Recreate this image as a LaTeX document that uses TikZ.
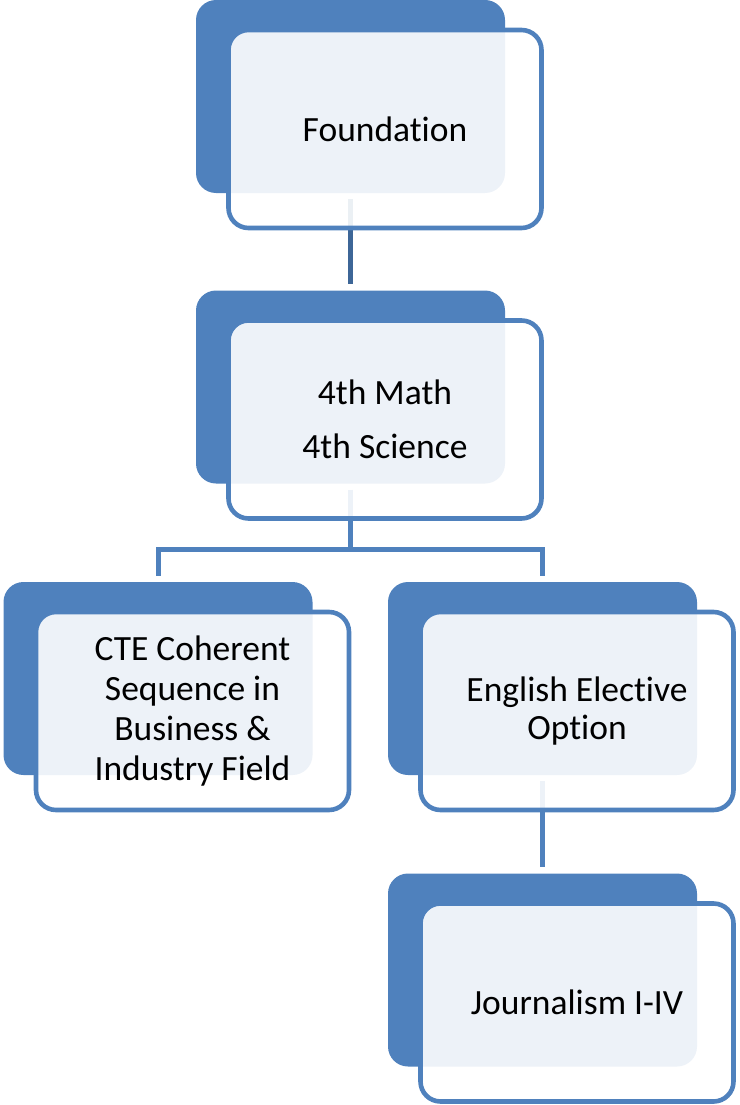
\documentclass[tikz,border=0pt]{standalone}
\usepackage{fontspec}
\setmainfont{Carlito}[Ligatures=NoCommon]
\definecolor{boxblue}{HTML}{4F81BD}
\definecolor{linkdark}{HTML}{3D6697}
\tikzset{
	back/.style={fill=boxblue,rounded corners=20pt,minimum width=309pt,minimum height=193pt,inner sep=0pt},
	front/.style={draw=boxblue,line width=4.6pt,fill=white,fill opacity=0.9,text opacity=1,rounded corners=20pt,
		minimum width=313pt,minimum height=198pt,inner sep=0pt,align=center,font=\fontsize{35.5}{42}\selectfont},
	link/.style={draw=boxblue,line width=5pt,shorten <=6pt,shorten >=6pt}
}

\begin{document}
\begin{tikzpicture}[x=1pt,y=-1pt]
			\useasboundingbox (0,0) rectangle (739,1105);
			
			% dark boxes behind
			\node[back] (b1) at (350.5,96.5) {};
			\node[back] (b2) at (350.5,387) {};
			\node[back] (b3) at (158,678.5) {};
			\node[back] (b4) at (542.5,678.5) {};
			\node[back] (b5) at (542.5,970) {};
			
			% connectors
			\coordinate (split) at ([yshift=-66pt]b2.south);
			\draw[link,draw=linkdark] (b1.south) -- (b2.north);
			\draw[link,shorten >=0pt] (b2.south) -- (split);
			\draw[link] (b3.north) |- (split) -| (b4.north);
			\draw[link] (b4.south) -- (b5.north);
			
			% front boxes
			\node[front] (f1) at ([shift={(34.5,32.5)}]b1) {Foundation};
			\node[front,font=\fontsize{35.5}{54}\selectfont] (f2) at ([shift={(34.5,32.5)}]b2) {4th Math\\4th Science};
			\node[front,font=\fontsize{35.5}{40}\selectfont] (f3) at ([shift={(34.5,32.5)}]b3) {CTE Coherent\\Sequence in\\Business \&\\Industry Field};
			\node[front,font=\fontsize{35.5}{38.5}\selectfont] (f4) at ([shift={(34.5,32.5)}]b4) {English Elective\\Option};
			\node[front] (f5) at ([shift={(34.5,32.5)}]b5) {Journalism I-IV};
\end{tikzpicture}
\end{document}
